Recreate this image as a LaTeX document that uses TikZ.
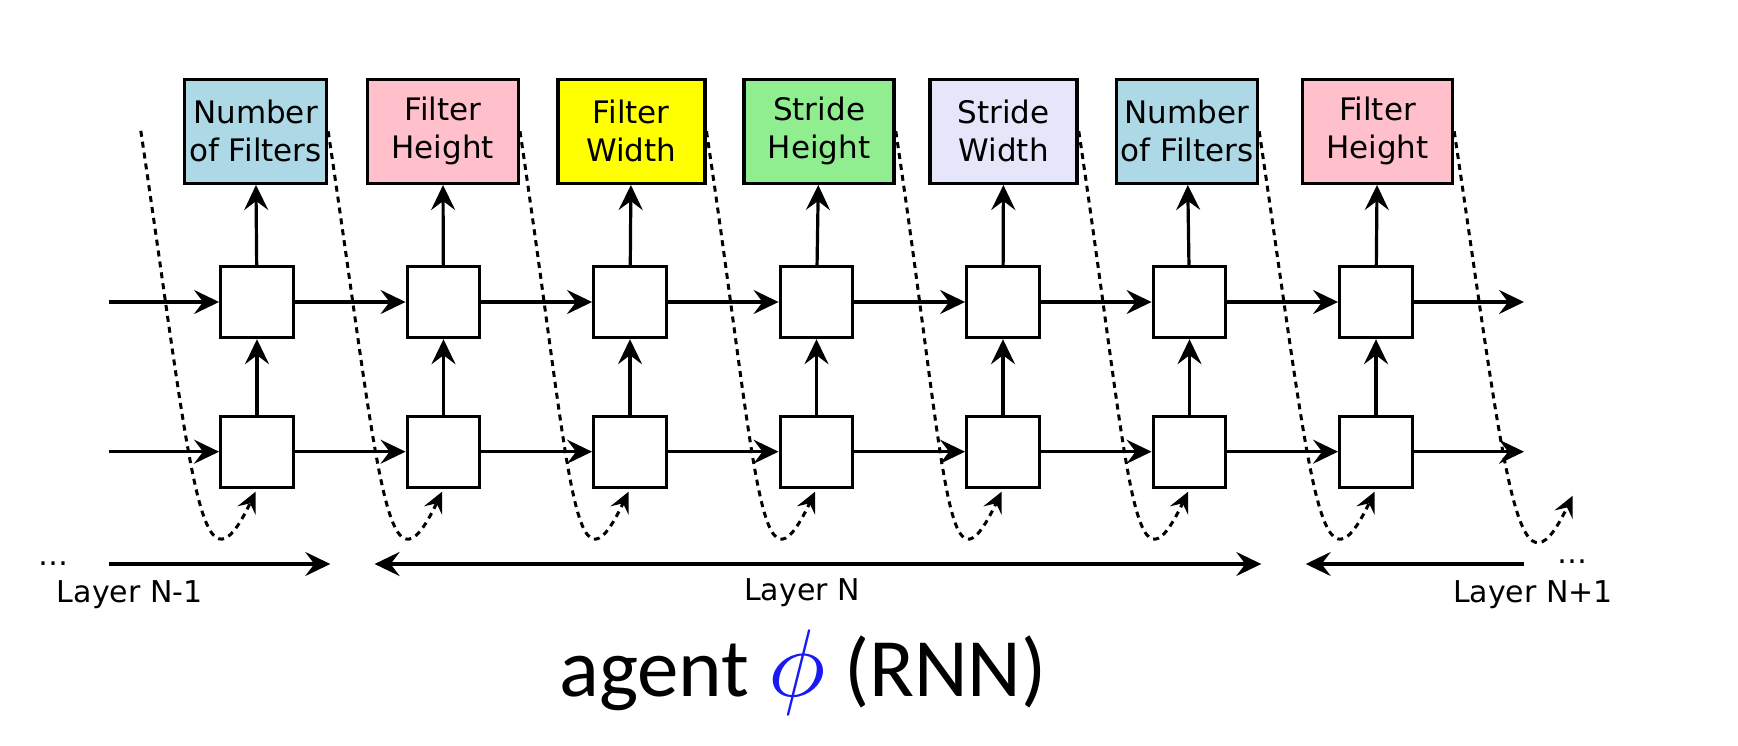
\documentclass[tikz,border=0pt]{standalone}
\usepackage{fontspec}
\setmainfont{DejaVu Sans}
\newfontfamily\titlefont{Carlito}
\usetikzlibrary{arrows.meta}

\newlength{\du}
\setlength{\du}{10pt}

\definecolor{filtercount}{rgb}{0.678431, 0.847059, 0.901961}
\definecolor{filterheight}{rgb}{1.000000, 0.752941, 0.796078}
\definecolor{filterwidth}{rgb}{1.000000, 1.000000, 0.000000}
\definecolor{strideheight}{rgb}{0.564706, 0.933333, 0.564706}
\definecolor{stridewidth}{rgb}{0.901961, 0.901961, 0.980392}
\definecolor{phiblue}{rgb}{0.100000, 0.100000, 0.950000}

\tikzset{
  parambox/.style={draw, line width=3.4pt, minimum height=10.4\du, inner sep=0pt,
    align=center, font=\fontsize{31}{38}\selectfont},
  cellbox/.style={draw, fill=white, line width=3.4pt, minimum width=7.25\du,
    minimum height=7.1\du, inner sep=0pt},
  flow/.style={line width=3.2pt, ->, >={Stealth[length=25pt, width=24pt, inset=9pt]}},
  feedback/.style={line width=3pt, dash pattern=on 6pt off 5pt, shorten >=3pt,
    -{Stealth[length=21pt, width=20pt, inset=8pt]}},
  layerlabel/.style={anchor=base, font=\fontsize{30}{36}\selectfont},
}

\begin{document}
\begin{tikzpicture}
\pgftransformxscale{1.000000}
\pgftransformyscale{-1.000000}
\useasboundingbox[fill=white] (0\du,0\du) rectangle (173.8\du,74.6\du);
% what the agent emits, one box per step
\node[parambox, fill=filtercount, minimum width=14.2\du] (p1) at (25.55\du,13.13\du){Number\\of Filters};
\node[parambox, fill=filterheight, minimum width=15.1\du] (p2) at (44.28\du,13.13\du){Filter\\Height};
\node[parambox, fill=filterwidth, minimum width=14.7\du] (p3) at (63.13\du,13.13\du){Filter\\Width};
\node[parambox, fill=strideheight, minimum width=15.0\du] (p4) at (81.91\du,13.13\du){Stride\\Height};
\node[parambox, fill=stridewidth, minimum width=14.7\du] (p5) at (100.36\du,13.13\du){Stride\\Width};
\node[parambox, fill=filtercount, minimum width=14.1\du] (p6) at (118.70\du,13.13\du){Number\\of Filters};
\node[parambox, fill=filterheight, minimum width=15.0\du] (p7) at (137.75\du,13.13\du){Filter\\Height};
% two stacked rnn cells
\node[cellbox] (u1) at (25.70\du,30.20\du){};
\node[cellbox] (u2) at (44.35\du,30.20\du){};
\node[cellbox] (u3) at (63.00\du,30.20\du){};
\node[cellbox] (u4) at (81.65\du,30.20\du){};
\node[cellbox] (u5) at (100.30\du,30.20\du){};
\node[cellbox] (u6) at (118.95\du,30.20\du){};
\node[cellbox] (u7) at (137.60\du,30.20\du){};
\node[cellbox] (l1) at (25.70\du,45.17\du){};
\node[cellbox] (l2) at (44.35\du,45.17\du){};
\node[cellbox] (l3) at (63.00\du,45.17\du){};
\node[cellbox] (l4) at (81.65\du,45.17\du){};
\node[cellbox] (l5) at (100.30\du,45.17\du){};
\node[cellbox] (l6) at (118.95\du,45.17\du){};
\node[cellbox] (l7) at (137.60\du,45.17\du){};
\coordinate (inU) at (10.86\du,30.20\du);
\coordinate (inL) at (10.86\du,45.17\du);
\coordinate (outU) at (152.40\du,30.20\du);
\coordinate (outL) at (152.40\du,45.17\du);
\draw[flow] (inU)--(u1);
\draw[flow] (u1)--(u2);
\draw[flow] (u2)--(u3);
\draw[flow] (u3)--(u4);
\draw[flow] (u4)--(u5);
\draw[flow] (u5)--(u6);
\draw[flow] (u6)--(u7);
\draw[flow] (u7)--(outU);
\draw[flow] (inL)--(l1);
\draw[flow] (l1)--(l2);
\draw[flow] (l2)--(l3);
\draw[flow] (l3)--(l4);
\draw[flow] (l4)--(l5);
\draw[flow] (l5)--(l6);
\draw[flow] (l6)--(l7);
\draw[flow] (l7)--(outL);
\draw[flow] (l1)--(u1);
\draw[flow] (l2)--(u2);
\draw[flow] (l3)--(u3);
\draw[flow] (l4)--(u4);
\draw[flow] (l5)--(u5);
\draw[flow] (l6)--(u6);
\draw[flow] (l7)--(u7);
\draw[flow] (u1)--(p1);
\draw[flow] (u2)--(p2);
\draw[flow] (u3)--(p3);
\draw[flow] (u4)--(p4);
\draw[flow] (u5)--(p5);
\draw[flow] (u6)--(p6);
\draw[flow] (u7)--(p7);
% output fed back as next input
\coordinate (fb0) at (14.08\du,13.08\du);
\coordinate (fb8) at (157.40\du,49.30\du);
\draw[feedback] (fb0) .. controls +(5.2\du,35\du) and +(-5.8\du,12.1\du) .. (l1.south);
\draw[feedback] (p1.east) .. controls +(5.2\du,35\du) and +(-5.8\du,12.1\du) .. (l2.south);
\draw[feedback] (p2.east) .. controls +(5.2\du,35\du) and +(-5.8\du,12.1\du) .. (l3.south);
\draw[feedback] (p3.east) .. controls +(5.2\du,35\du) and +(-5.8\du,12.1\du) .. (l4.south);
\draw[feedback] (p4.east) .. controls +(5.2\du,35\du) and +(-5.8\du,12.1\du) .. (l5.south);
\draw[feedback] (p5.east) .. controls +(5.2\du,35\du) and +(-5.8\du,12.1\du) .. (l6.south);
\draw[feedback] (p6.east) .. controls +(5.2\du,35\du) and +(-5.8\du,12.1\du) .. (l7.south);
\draw[feedback] (p7.east) .. controls +(5.2\du,35\du) and +(-5.8\du,12.1\du) .. (fb8);
% layer spans
\coordinate (prevA) at (10.86\du,56.40\du);
\coordinate (prevB) at (33.03\du,56.40\du);
\coordinate (curA) at (37.46\du,56.40\du);
\coordinate (curB) at (126.13\du,56.40\du);
\coordinate (nextA) at (152.40\du,56.40\du);
\coordinate (nextB) at (130.57\du,56.40\du);
\draw[flow] (prevA)--(prevB);
\draw[flow, <->] (curA)--(curB);
\draw[flow] (nextA)--(nextB);
\node[layerlabel] (dotsL) at (5.30\du,56.50\du){\dots};
\node[layerlabel] (dotsR) at (157.20\du,56.30\du){\dots};
\node[layerlabel] (prevlbl) at (12.97\du,60.20\du){Layer N-1};
\node[layerlabel] (curlbl) at (80.20\du,60.00\du){Layer N};
\node[layerlabel] (nextlbl) at (153.30\du,60.20\du){Layer N+1};
\node[anchor=base] (title) at (80.30\du,69.60\du){\titlefont\fontsize{83}{92}\selectfont agent {\color{phiblue}\scalebox{9.6}{\normalsize$\phi$}} (RNN)};
\end{tikzpicture}
\end{document}
